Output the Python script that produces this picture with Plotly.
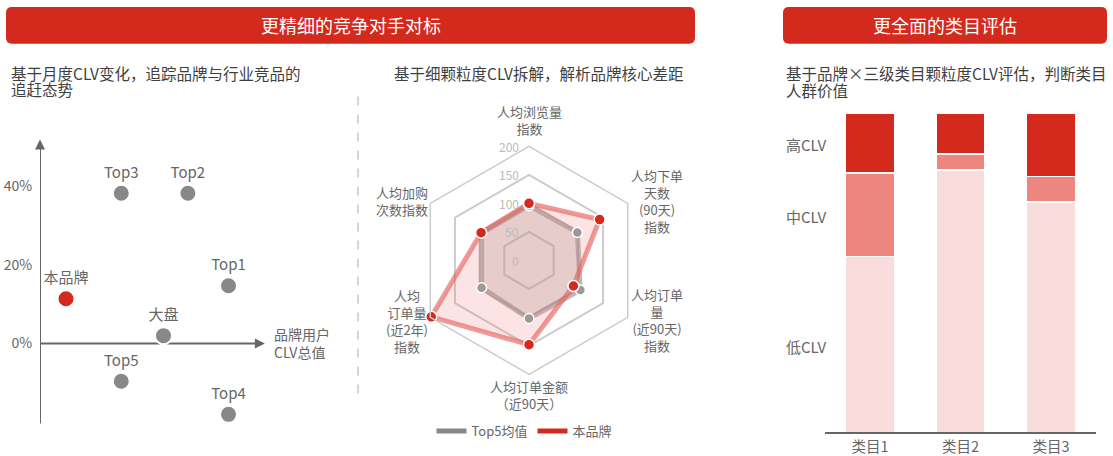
import plotly.graph_objects as go

W, H = 1113, 456
FONT = "Noto Sans CJK SC"
GRAY_TXT = "#666666"
RED = "#D42A1E"

# ---------------- data ----------------
# scatter: brand CLV total (x, arbitrary units) vs monthly CLV change (%)
sc_names = ["Top3", "Top2", "Top1", "大盘", "Top5", "Top4"]
sc_x = [2.5, 4.55, 5.8, 3.8, 2.5, 5.8]
sc_y = [38.2, 38.2, 14.7, 2.0, -9.6, -18.0]
brand_name = ["本品牌"]
brand_x = [0.8]
brand_y = [11.4]
y_ticks = [0, 20, 40]
y_ticktext = ["0%", "20%", "40%"]

# radar
radar_cats = ["人均浏览量指数", "人均下单天数(90天)指数", "人均订单量(近90天)指数",
              "人均订单金额(近90天)", "人均订单量(近2年)指数", "人均加购次数指数"]
radar_labels = ["人均浏览量<br>指数", "人均下单<br>天数<br>(90天)<br>指数",
                "人均订单<br>量<br>(近90天)<br>指数", "人均订单金额<br>（近90天）",
                "人均<br>订单量<br>(近2年)<br>指数", "人均加购<br>次数指数"]
top5_vals = [96, 98, 104, 102, 96, 96]
brand_vals = [100, 143, 90, 148, 198, 97]
radar_ticks = [0, 50, 100, 150, 200]
radar_max = 200

# stacked bars
bar_cats = ["类目1", "类目2", "类目3"]
low_clv = [55.0, 82.1, 72.1]
mid_clv = [26.1, 5.0, 8.0]
high_clv = [18.9, 12.9, 19.9]
level_names = ["高CLV", "中CLV", "低CLV"]


def X(p):
    return p / W


def Y(p):
    return 1 - p / H


fig = go.Figure()

# ---------------- scatter ----------------
fig.add_trace(go.Scatter(
    x=sc_x, y=sc_y, text=sc_names, mode="markers+text", textposition="top center",
    textfont=dict(size=15, color=GRAY_TXT, family=FONT),
    marker=dict(size=17, color="#888888", line=dict(color="white", width=2)),
    cliponaxis=False, showlegend=False, xaxis="x", yaxis="y", hoverinfo="skip"))
fig.add_trace(go.Scatter(
    x=brand_x, y=brand_y, text=brand_name, mode="markers+text", textposition="top center",
    textfont=dict(size=15, color=GRAY_TXT, family=FONT),
    marker=dict(size=17, color=RED, line=dict(color="white", width=2)),
    cliponaxis=False, showlegend=False, xaxis="x", yaxis="y", hoverinfo="skip"))

# ---------------- radar ----------------
fig.add_trace(go.Scatterpolar(
    r=top5_vals + top5_vals[:1], theta=radar_cats + radar_cats[:1], mode="lines",
    fill="toself", fillcolor="rgba(160,150,150,0.28)",
    line=dict(color="rgba(150,140,140,0.6)", width=5), showlegend=False, hoverinfo="skip"))
fig.add_trace(go.Scatterpolar(
    r=brand_vals + brand_vals[:1], theta=radar_cats + radar_cats[:1], mode="lines",
    fill="toself", fillcolor="rgba(240,120,120,0.2)",
    line=dict(color="rgba(230,100,95,0.65)", width=5), showlegend=False, hoverinfo="skip"))
fig.add_trace(go.Scatterpolar(
    r=top5_vals, theta=radar_cats, mode="markers",
    marker=dict(size=10, color="#999999", line=dict(color="white", width=1.5)),
    showlegend=False, hoverinfo="skip"))
fig.add_trace(go.Scatterpolar(
    r=brand_vals, theta=radar_cats, mode="markers",
    marker=dict(size=11, color=RED, line=dict(color="white", width=1.5)),
    showlegend=False, hoverinfo="skip"))
# legend entries
fig.add_trace(go.Scatterpolar(r=[None], theta=[radar_cats[0]], mode="lines", name="Top5均值",
                              line=dict(color="#888888", width=5)))
fig.add_trace(go.Scatterpolar(r=[None], theta=[radar_cats[0]], mode="lines", name="本品牌",
                              line=dict(color=RED, width=5)))

# ---------------- stacked bars ----------------
for vals, col, nm in [(low_clv, "#F9DCDC", "低CLV"), (mid_clv, "#EE8680", "中CLV"),
                      (high_clv, RED, "高CLV")]:
    fig.add_trace(go.Bar(x=bar_cats, y=vals, name=nm, marker=dict(color=col, line=dict(color="white", width=1.5)),
                         xaxis="x2", yaxis="y2", showlegend=False, hoverinfo="skip"))

shapes = []
annotations = []


def rounded(x0, y0, x1, y1, r):
    pts = [("M", [(x0 + r, y0)]), ("L", [(x1 - r, y0)]), ("Q", [(x1, y0), (x1, y0 + r)]),
           ("L", [(x1, y1 - r)]), ("Q", [(x1, y1), (x1 - r, y1)]), ("L", [(x0 + r, y1)]),
           ("Q", [(x0, y1), (x0, y1 - r)]), ("L", [(x0, y0 + r)]), ("Q", [(x0, y0), (x0 + r, y0)])]
    s = ""
    for cmd, ps in pts:
        s += cmd + " " + " ".join(f"{X(a):.5f},{Y(b):.5f}" for a, b in ps) + " "
    return s + "Z"


for (x0, x1, title) in [(6, 695, "更精细的竞争对手对标"), (783, 1107, "更全面的类目评估")]:
    shapes.append(dict(type="path", xref="paper", yref="paper", path=rounded(x0, 7, x1, 44, 6),
                       fillcolor=RED, line=dict(width=0), layer="below"))
    annotations.append(dict(xref="paper", yref="paper", x=X((x0 + x1) / 2), y=Y(25.5), text=title,
                            showarrow=False, xanchor="center", yanchor="middle",
                            font=dict(size=18, color="white", family=FONT)))

# subtitles
SUB = dict(size=15.5, color="#3F3F3F", family=FONT)
for (x, y, t) in [(9, 73, "基于月度CLV变化，追踪品牌与行业竞品的"), (9, 89.5, "追赶态势"),
                  (392, 73, "基于细颗粒度CLV拆解，解析品牌核心差距"),
                  (784, 73, "基于品牌×三级类目颗粒度CLV评估，判断类目"), (784, 90, "人群价值")]:
    annotations.append(dict(xref="paper", yref="paper", x=X(x), y=Y(y), text=t, showarrow=False,
                            xanchor="left", yanchor="middle", font=SUB))

# dashed separator
shapes.append(dict(type="line", xref="paper", yref="paper", x0=X(358), x1=X(358), y0=Y(97), y1=Y(396),
                   line=dict(color="#AAAAAA", width=1, dash="dash")))

# scatter axes (lines below markers) + arrowheads
shapes.append(dict(type="line", xref="x", yref="y", x0=0, x1=0, y0=-20.3, y1=50.5,
                   line=dict(color="#666666", width=2), layer="below"))
shapes.append(dict(type="line", xref="x", yref="y", x0=0, x1=6.75, y0=0, y1=0,
                   line=dict(color="#666666", width=2), layer="below"))
annotations.append(dict(xref="x", yref="y", axref="x", ayref="y", x=0, y=51.9, ax=0, ay=49,
                        text="", showarrow=True, arrowhead=2, arrowsize=1, arrowwidth=2, arrowcolor="#666666"))
annotations.append(dict(xref="x", yref="y", axref="x", ayref="y", x=6.92, y=0, ax=6.6, ay=0,
                        text="", showarrow=True, arrowhead=2, arrowsize=1, arrowwidth=2, arrowcolor="#666666"))
annotations.append(dict(xref="paper", yref="paper", x=X(272), y=Y(345), text="品牌用户<br>CLV总值",
                        showarrow=False, xanchor="left", yanchor="middle", align="left",
                        font=dict(size=14, color=GRAY_TXT, family=FONT)))

# radar category labels
radar_pos = [(529, 120.5), (657, 201.5), (657, 321.5), (529, 396.5), (407, 322), (402, 201.5)]
for lab, (x, y) in zip(radar_labels, radar_pos):
    annotations.append(dict(xref="paper", yref="paper", x=X(x), y=Y(y), text=lab, showarrow=False,
                            xanchor="center", yanchor="middle", align="center",
                            font=dict(size=13, color=GRAY_TXT, family=FONT)))

# radar radial tick labels (left of the top spoke)
R_CX, R_CY, R_PX = 529, 261.5, 114.5
for v in radar_ticks:
    annotations.append(dict(xref="paper", yref="paper", x=X(R_CX - 8), y=Y(R_CY - v / radar_max * R_PX),
                            text=str(v), showarrow=False, xanchor="right", yanchor="middle",
                            font=dict(size=12, color="#BBBBBB", family=FONT)))

# bar level labels
for nm, y in zip(level_names, [145, 217, 348]):
    annotations.append(dict(xref="paper", yref="paper", x=X(784), y=Y(y), text=nm, showarrow=False,
                            xanchor="left", yanchor="middle",
                            font=dict(size=15, color=GRAY_TXT, family=FONT)))

fig.update_layout(
    width=W, height=H, margin=dict(l=0, r=0, t=0, b=0),
    paper_bgcolor="white", plot_bgcolor="white",
    font=dict(family=FONT, color=GRAY_TXT),
    shapes=shapes, annotations=annotations,
    barmode="stack", bargap=0.46,
    xaxis=dict(domain=[X(40), X(267.5)], range=[0, 7], visible=False, fixedrange=True),
    yaxis=dict(domain=[Y(430), Y(139.6)], range=[-21.5, 52], tickvals=y_ticks, ticktext=y_ticktext,
               showgrid=False, zeroline=False, showline=False, ticks="outside", ticklen=4,
               tickcolor="rgba(0,0,0,0)", tickfont=dict(size=14, color=GRAY_TXT, family=FONT),
               anchor="x"),
    xaxis2=dict(domain=[X(824.7), X(1096.2)], range=[-0.5, 2.5], showline=True, linecolor="#666666",
                linewidth=2, showgrid=False, zeroline=False, ticks="", anchor="y2",
                ticklabelstandoff=0, tickfont=dict(size=14.5, color=GRAY_TXT, family=FONT)),
    yaxis2=dict(domain=[Y(434.3), Y(113.3)], range=[0, 100], visible=False, anchor="x2"),
    polar=dict(
        domain=dict(x=[X(R_CX - R_PX), X(R_CX + R_PX)], y=[Y(R_CY + R_PX), Y(R_CY - R_PX)]),
        gridshape="linear", bgcolor="rgba(0,0,0,0)",
        angularaxis=dict(rotation=90, direction="clockwise", showticklabels=False, showgrid=False,
                         showline=True, linecolor="#CCCCCC", linewidth=1.5, ticks=""),
        radialaxis=dict(range=[0, radar_max], tickvals=radar_ticks, angle=90, showticklabels=False,
                        showline=False, ticks="", gridcolor="#CCCCCC", gridwidth=1.5),
    ),
    legend=dict(orientation="h", x=X(524), xanchor="center", y=Y(433), yanchor="middle",
                font=dict(size=13, color=GRAY_TXT, family=FONT), itemwidth=30,
                traceorder="normal", bgcolor="rgba(0,0,0,0)"),
)

PAGE_CSS = ("var s='margin:0;padding:0;overflow:hidden;';"
            "document.documentElement.style.cssText=s;document.body.style.cssText=s;")
fig.write_html("out.html", config={"displayModeBar": False}, post_script=PAGE_CSS)
